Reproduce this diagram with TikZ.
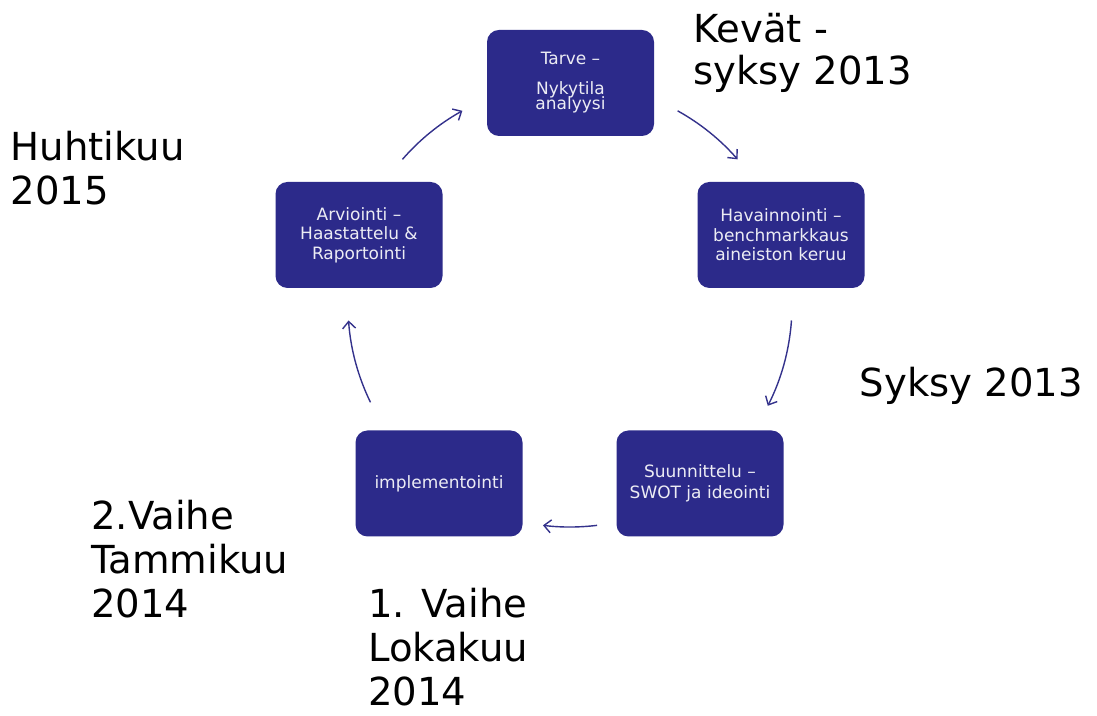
\documentclass[tikz,border=0pt]{standalone}
\usepackage{fontspec}
\setmainfont{DejaVu Sans}
\usetikzlibrary{arrows.meta,calc}

\definecolor{navy}{RGB}{44,42,138}
\definecolor{boxtext}{RGB}{236,236,244}
\definecolor{arrowcol}{RGB}{52,50,140}

\tikzset{
  phase/.style={draw=none, fill=navy, rounded corners=12bp,
    minimum width=167bp, minimum height=106bp, inner sep=0pt,
    align=center, text=boxtext,
    font=\fontsize{17bp}{19.5bp}\selectfont},
  % multi-line labels are placed by the baseline of their last line
  timing/.style={anchor=base west, inner sep=0pt, align=left, text=black,
    font=\fontsize{38.6bp}{44bp}\selectfont},
  cyc/.style={draw=arrowcol, line width=1.4bp,
    -{Straight Barb[length=7bp,width=13bp]}}
}

\begin{document}
\begin{tikzpicture}[x=1bp,y=1bp]
  \useasboundingbox[fill=white] (0,0) rectangle (1097,716);

  % the five phases of the cycle
  \node[phase] (tarve) at (570.5,633) {Tarve –\\[10bp]Nykytila\\[-4bp]analyysi};
  \node[phase] (hav)   at (781,481)   {Havainnointi –\\benchmarkkaus\\aineiston keruu};
  \node[phase] (suun)  at (700,232.5) {Suunnittelu –\\[2bp]SWOT ja ideointi};
  \node[phase] (impl)  at (439,232.5) {implementointi};
  \node[phase] (arv)   at (359,481)   {Arviointi –\\Haastattelu \&\\Raportointi};

  % cycle arrows lie on one circle around the ring of phases
  \coordinate (ctr) at (570,411);
  \coordinate (a1) at ($(ctr)+(139:222)$);
  \coordinate (a2) at ($(ctr)+(61:222)$);
  \coordinate (a3) at ($(ctr)+(-4:222)$);
  \coordinate (a4) at ($(ctr)+(-83:222)$);
  \coordinate (a5) at ($(ctr)+(206:222)$);
  \draw[cyc] (a1) arc[start angle=139, end angle=119, radius=222];
  \draw[cyc] (a2) arc[start angle=61,  end angle=41,  radius=222];
  \draw[cyc] (a3) arc[start angle=-4,  end angle=-27, radius=222];
  \draw[cyc] (a4) arc[start angle=-83, end angle=-97, radius=222];
  \draw[cyc] (a5) arc[start angle=206, end angle=184, radius=222];

  % schedule labels
  \node[timing] (t1) at (693,631)   {Kevät -\\[-2bp]syksy 2013};
  \node[timing] (t2) at (859.5,319) {Syksy 2013};
  \node[timing] (t3) at (368,10)    {1. Vaihe\\Lokakuu\\2014};
  \node[timing] (t4) at (91,98)     {2.Vaihe\\Tammikuu\\2014};
  \node[timing] (t5) at (10.5,511)  {Huhtikuu\\2015};
\end{tikzpicture}
\end{document}
